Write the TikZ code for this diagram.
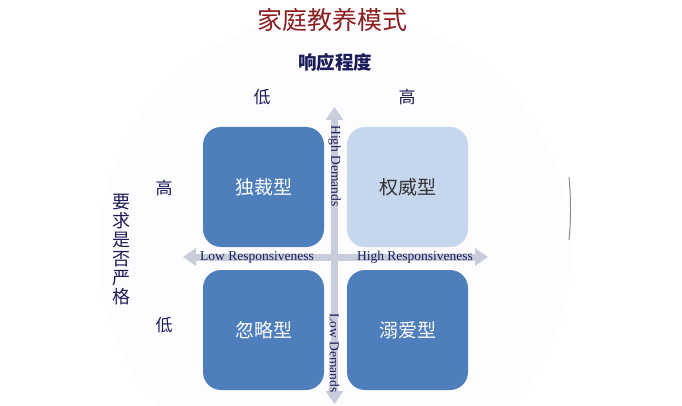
\documentclass[tikz,border=0pt]{standalone}
\usepackage{fontspec}
\setmainfont{Liberation Serif}
\newfontfamily\cjk{Noto Sans CJK SC}
\usetikzlibrary{arrows.meta}
\definecolor{boxdark}{HTML}{4E7FBC}
\definecolor{boxlight}{HTML}{C6D6EC}
\definecolor{navy}{HTML}{1C1C5A}
\definecolor{titlered}{HTML}{8B1E1E}
\definecolor{axisgray}{HTML}{C9CCDA}
\definecolor{faint}{HTML}{FDFCFE}
\tikzset{
  quad/.style={rounded corners=18pt, minimum width=121pt, minimum height=120pt, inner sep=0pt, font=\cjk\fontsize{19}{19}\selectfont},
  darkquad/.style={quad, fill=boxdark, text=white!93!boxlight},
  lightquad/.style={quad, fill=boxlight, text=black!80},
  axis/.style={axisgray, line width=7pt, {Triangle[width=17pt,length=13pt]}-{Triangle[width=17pt,length=13pt]}},
  axlabel/.style={text=navy, font=\fontsize{13.5}{13.5}\selectfont, inner sep=1pt},
  cjklabel/.style={text=navy, font=\cjk\fontsize{17}{17}\selectfont}
}
\begin{document}
\begin{tikzpicture}[x=1pt,y=-1pt]
\useasboundingbox (0,0) rectangle (682,406);
\fill[white] (0,0) rectangle (682,406);
\fill[faint] (335,250) circle (236);
\draw[black!45, line width=1pt] (569,177) .. controls (571,200) and (571,220) .. (569,240);
% title
\node[text=titlered, font=\cjk\fontsize{25}{25}\selectfont] (title) at (332,20) {家庭教养模式};
\node[text=navy, font=\cjk\bfseries\fontsize{18.5}{18.5}\selectfont] (resp) at (335,62) {响应程度};
\node[cjklabel] (rlow) at (262,97) {低};
\node[cjklabel] (rhigh) at (407,97) {高};
\node[cjklabel] (dhigh) at (164,188) {高};
\node[cjklabel] (dlow) at (164,325) {低};
\node[text=navy, font=\cjk\fontsize{18}{19}\selectfont, align=center, inner sep=0pt] (dem) at (121,250) {要\\求\\是\\否\\严\\格};
% quadrants
\node[darkquad] (q1) at (263.5,187) {独裁型};
\node[lightquad] (q2) at (407.5,187) {权威型};
\node[darkquad] (q3) at (263.5,330) {忽略型};
\node[darkquad] (q4) at (407.5,330) {溺爱型};
% axes
\coordinate (vtop) at (334.5,107);
\coordinate (vbot) at (334.5,404);
\coordinate (hleft) at (183,257);
\coordinate (hright) at (488,257);
\draw[axis] (vtop) -- (vbot);
\draw[axis] (hleft) -- (hright);
\node[axlabel, rotate=-90] (hd) at (334.5,166) {High Demands};
\node[axlabel, rotate=-90] (ld) at (334.5,353) {Low Demands};
\node[axlabel] (lr) at (257,257) {Low Responsiveness};
\node[axlabel] (hr) at (415,257) {High Responsiveness};
\end{tikzpicture}
\end{document}
